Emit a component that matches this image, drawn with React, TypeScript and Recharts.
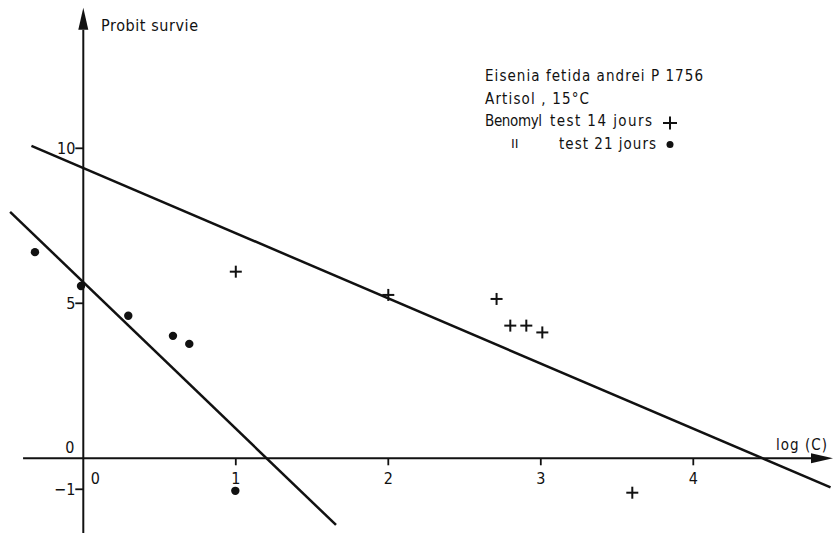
import { Scatter, ScatterChart, XAxis, YAxis, ReferenceLine, ReferenceDot } from "recharts"

// Benomyl, 14-day test (+)
const test14X = [1.0, 2.0, 2.71, 2.8, 2.905, 3.01, 3.6]
const test14Y = [6.02, 5.27, 5.14, 4.28, 4.28, 4.06, -1.11]

// Benomyl, 21-day test (•)
const test21X = [-0.317, -0.015, 0.295, 0.588, 0.695, 0.997]
const test21Y = [6.65, 5.56, 4.6, 3.95, 3.69, -1.05]

// fitted probit lines, drawn end to end
const fit14X = [-0.34, 4.9]
const fit14Y = [10.08, -0.94]
const fit21X = [-0.48, 1.657]
const fit21Y = [7.95, -2.15]

const xTicks = [0, 1, 2, 3, 4]
const yTicks = [10, 5, 0, -1]

const legendLines = [
  "Eisenia fetida andrei P 1756",
  "Artisol , 15°C",
]

const WIDTH = 833
const HEIGHT = 533
const X_DOMAIN: [number, number] = [-0.5462, 4.9161]
const Y_DOMAIN: [number, number] = [-2.41, 14.784]
const INK = "#111"
const FONT = "'Liberation Sans Narrow', 'DejaVu Sans Condensed', sans-serif"

const zip = (xs: number[], ys: number[]) => xs.map((x, i) => ({ x, y: ys[i] }))

function CrossMark({ cx, cy }: any) {
  return (
    <g stroke={INK} strokeWidth={2}>
      <line x1={cx - 6} y1={cy} x2={cx + 6} y2={cy} />
      <line x1={cx} y1={cy - 6} x2={cx} y2={cy + 6} />
    </g>
  )
}

function DotMark({ cx, cy }: any) {
  return <circle cx={cx} cy={cy} r={4.2} fill={INK} />
}

// axis line with a filled arrow head at its far end
function ArrowAxis(props: any) {
  const { x1, y1, x2, y2 } = props
  const dx = x2 - x1
  const dy = y2 - y1
  const len = Math.hypot(dx, dy)
  const ux = dx / len
  const uy = dy / len
  const headLen = 22
  const headHalf = 5
  const bx = x2 - ux * headLen
  const by = y2 - uy * headLen
  const pts = [
    `${x2},${y2}`,
    `${bx - uy * headHalf},${by + ux * headHalf}`,
    `${bx + uy * headHalf},${by - ux * headHalf}`,
  ].join(" ")
  return (
    <g>
      <line x1={x1} y1={y1} x2={bx} y2={by} stroke={INK} strokeWidth={2} />
      <polygon points={pts} fill={INK} />
    </g>
  )
}

function XTick({ cx, cy, value }: any) {
  const isOrigin = value === 0
  return (
    <g>
      {!isOrigin && <line x1={cx} y1={cy} x2={cx} y2={cy + 7} stroke={INK} strokeWidth={1.8} />}
      <text
        x={isOrigin ? cx + 12 : cx}
        y={cy + 26}
        textAnchor="middle"
        fontFamily={FONT}
        fontSize={16}
        fill={INK}
      >
        {value}
      </text>
    </g>
  )
}

function YTick({ cx, cy, value }: any) {
  const isOrigin = value === 0
  return (
    <g>
      {!isOrigin && <line x1={cx - 8} y1={cy} x2={cx} y2={cy} stroke={INK} strokeWidth={1.8} />}
      <text
        x={isOrigin ? cx - 9 : cx - 8}
        y={isOrigin ? cy - 5 : cy + 6}
        textAnchor="end"
        fontFamily={FONT}
        fontSize={16}
        fill={INK}
      >
        {value === -1 ? "−1" : value}
      </text>
    </g>
  )
}

function Annotations() {
  const common = { fontFamily: FONT, fill: INK, lengthAdjust: "spacing" as const }
  return (
    <svg
      width={WIDTH}
      height={HEIGHT}
      style={{ position: "absolute", left: 0, top: 0, pointerEvents: "none" }}
    >
      <text x={101} y={31} fontSize={16} textLength={97} {...common}>
        Probit survie
      </text>
      <text x={776} y={450} fontSize={15} textLength={51} {...common}>
        log (C)
      </text>
      <text x={485} y={81} fontSize={15} textLength={218} {...common}>
        {legendLines[0]}
      </text>
      <text x={485} y={103.5} fontSize={15} textLength={104} {...common}>
        {legendLines[1]}
      </text>
      <text x={485} y={125.5} fontSize={15} textLength={57} {...common}>
        Benomyl
      </text>
      <text x={550} y={125.5} fontSize={15} textLength={102} {...common}>
        test 14 jours
      </text>
      <g stroke={INK} strokeWidth={2}>
        <line x1={663} y1={123} x2={677} y2={123} />
        <line x1={670} y1={116.5} x2={670} y2={129.5} />
      </g>
      <text x={511} y={148} fontSize={15} {...common}>
        ıı
      </text>
      <text x={559} y={148.5} fontSize={15} textLength={97} {...common}>
        test 21 jours
      </text>
      <circle cx={670} cy={144.5} r={3.5} fill={INK} />
    </svg>
  )
}

export default function App() {
  const points14 = zip(test14X, test14Y)
  const points21 = zip(test21X, test21Y)
  const line14 = zip(fit14X, fit14Y)
  const line21 = zip(fit21X, fit21Y)

  return (
    <div style={{ position: "absolute", left: 0, top: 0, width: WIDTH, height: HEIGHT, background: "#fff" }}>
      <ScatterChart width={WIDTH} height={HEIGHT} margin={{ top: 0, right: 0, bottom: 0, left: 0 }}>
        <XAxis type="number" dataKey="x" domain={X_DOMAIN} allowDataOverflow hide />
        <YAxis type="number" dataKey="y" domain={Y_DOMAIN} allowDataOverflow hide />

        <ReferenceLine
          segment={[{ x: -0.395, y: 0 }, { x: X_DOMAIN[1], y: 0 }]}
          ifOverflow="visible"
          shape={ArrowAxis}
        />
        <ReferenceLine
          segment={[{ x: 0, y: Y_DOMAIN[0] }, { x: 0, y: 14.53 }]}
          ifOverflow="visible"
          shape={ArrowAxis}
        />

        {xTicks.map((t) => (
          <ReferenceDot
            key={`x${t}`}
            x={t}
            y={0}
            ifOverflow="visible"
            shape={(p: any) => <XTick {...p} value={t} />}
          />
        ))}
        {yTicks.map((t) => (
          <ReferenceDot
            key={`y${t}`}
            x={0}
            y={t}
            ifOverflow="visible"
            shape={(p: any) => <YTick {...p} value={t} />}
          />
        ))}

        <Scatter
          data={line14}
          line={{ stroke: INK, strokeWidth: 2.5 }}
          shape={() => <g />}
          isAnimationActive={false}
        />
        <Scatter
          data={line21}
          line={{ stroke: INK, strokeWidth: 2.5 }}
          shape={() => <g />}
          isAnimationActive={false}
        />
        <Scatter data={points14} shape={CrossMark} isAnimationActive={false} />
        <Scatter data={points21} shape={DotMark} isAnimationActive={false} />
      </ScatterChart>
      <Annotations />
    </div>
  )
}
